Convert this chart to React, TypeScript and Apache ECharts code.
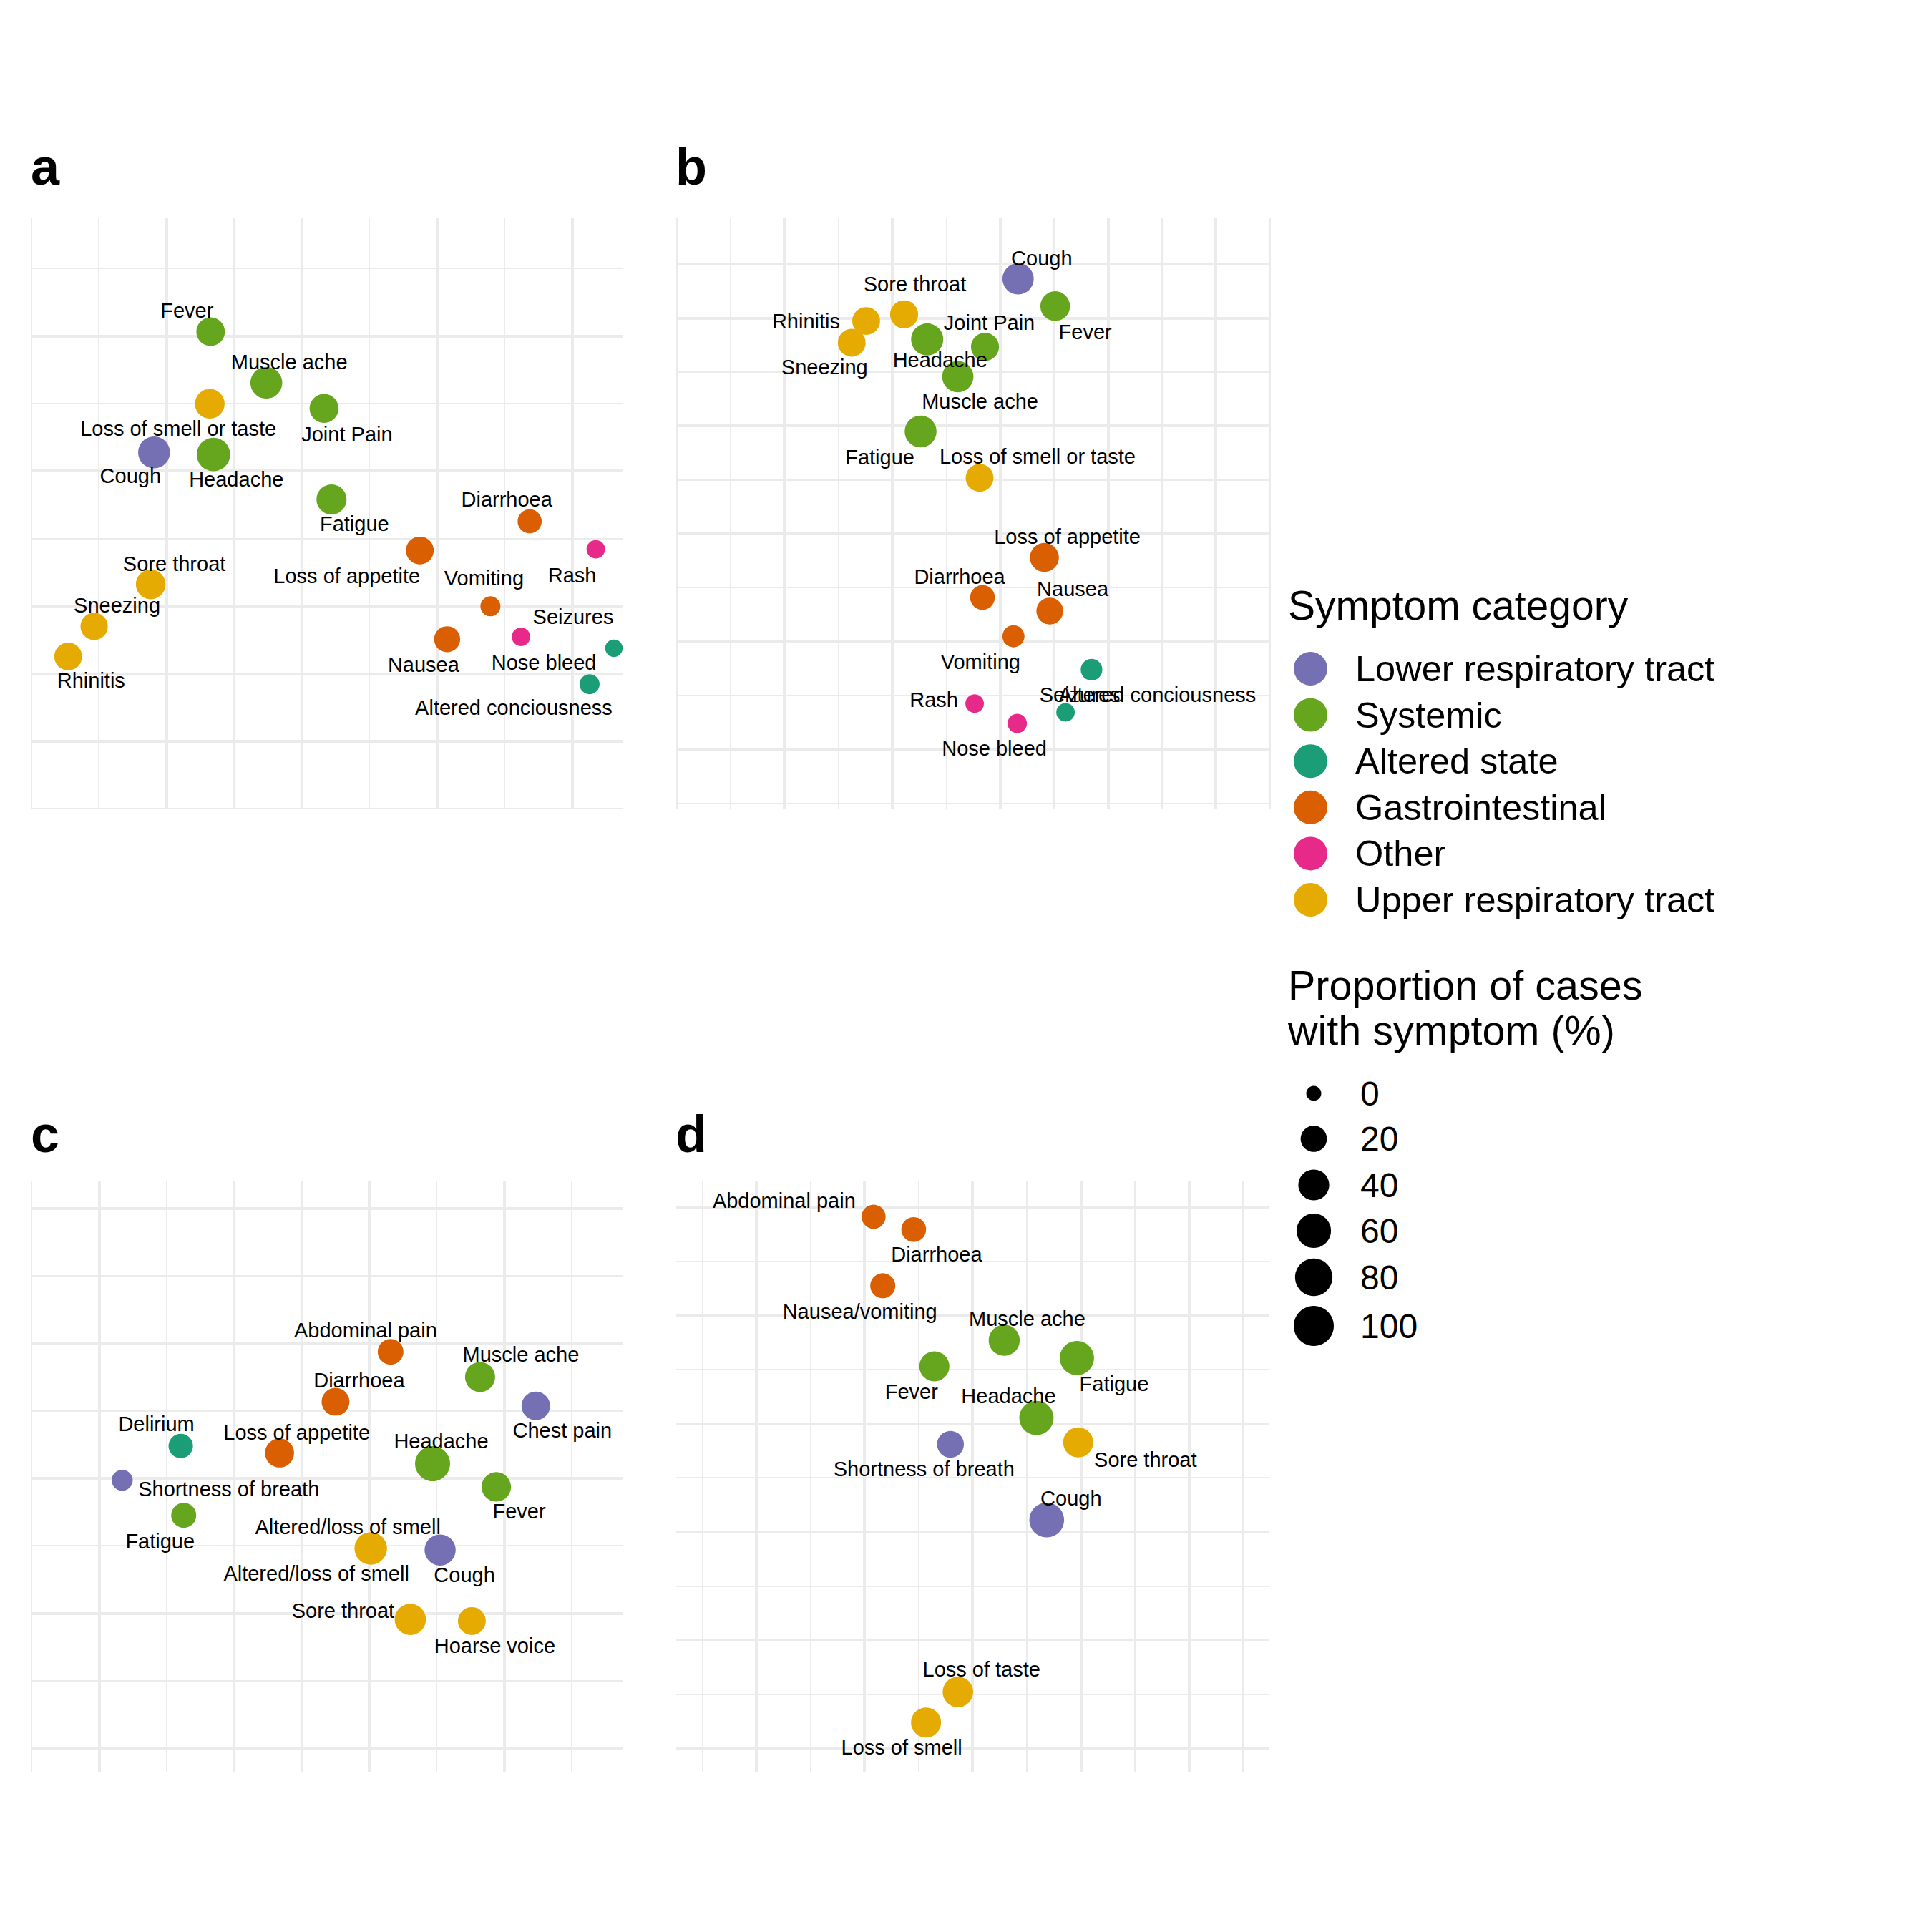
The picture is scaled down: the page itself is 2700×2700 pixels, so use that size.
import React, { useEffect, useRef } from "react";
import * as echarts from "echarts";

// ---------- categories ----------
const CATEGORIES = [
  "Lower respiratory tract",
  "Systemic",
  "Altered state",
  "Gastrointestinal",
  "Other",
  "Upper respiratory tract",
];
const CATEGORY_COLORS = ["#7570B3", "#66A61E", "#1B9E77", "#D95F02", "#E7298A", "#E6AB02"];
const L = 0, S = 1, A = 2, G = 3, O = 4, U = 5;

// ---------- panel a ----------
const aSymptoms = ["Fever", "Muscle ache", "Loss of smell or taste", "Joint Pain", "Cough", "Headache", "Fatigue", "Diarrhoea", "Loss of appetite", "Rash", "Sore throat", "Vomiting", "Sneezing", "Nausea", "Nose bleed", "Seizures", "Rhinitis", "Altered conciousness"];
const aCategory = [S, S, U, S, L, S, S, G, G, O, U, G, U, G, O, A, U, A];
const aX = [0.328, 0.740, 0.322, 1.167, -0.090, 0.349, 1.222, 2.687, 1.875, 3.176, -0.115, 2.397, -0.533, 2.077, 2.623, 3.310, -0.725, 3.130];
const aY = [3.031, 2.653, 2.497, 2.463, 2.137, 2.122, 1.789, 1.627, 1.411, 1.420, 1.160, 0.998, 0.849, 0.754, 0.772, 0.687, 0.626, 0.421];
const aPct = [29, 45, 34, 31, 45, 54, 36, 13, 26, 2, 34, 4, 24, 19, 2, 1, 26, 4];

// ---------- panel b ----------
const bSymptoms = ["Cough", "Fever", "Sore throat", "Rhinitis", "Sneezing", "Headache", "Joint Pain", "Muscle ache", "Fatigue", "Loss of smell or taste", "Loss of appetite", "Diarrhoea", "Nausea", "Vomiting", "Altered conciousness", "Seizures", "Rash", "Nose bleed"];
const bCategory = [L, S, U, U, U, S, S, S, S, U, G, G, G, G, A, A, O, O];
const bX = [3.167, 3.511, 2.110, 1.758, 1.624, 2.324, 2.860, 2.608, 2.263, 2.810, 3.411, 2.837, 3.461, 3.124, 3.848, 3.607, 2.764, 3.159];
const bY = [4.364, 4.111, 4.035, 3.973, 3.771, 3.802, 3.733, 3.457, 2.948, 2.519, 1.780, 1.409, 1.283, 1.049, 0.739, 0.344, 0.425, 0.241];
const bPct = [42, 34, 27, 26, 26, 47, 27, 42, 45, 26, 31, 15, 22, 8, 7, 2, 2, 3];

// ---------- panel c ----------
const cSymptoms = ["Abdominal pain", "Muscle ache", "Diarrhoea", "Chest pain", "Delirium", "Loss of appetite", "Headache", "Shortness of breath", "Fever", "Fatigue", "Altered/loss of smell", "Altered/loss of smell", "Cough", "Sore throat", "Hoarse voice"];
const cCategory = [G, S, G, L, A, G, S, L, S, S, U, U, L, U, U];
const cX = [2.160, 2.823, 1.752, 3.236, 0.605, 1.337, 2.471, 0.171, 2.943, 0.627, 2.013, 2.013, 2.527, 2.306, 2.762];
const cY = [2.937, 2.750, 2.567, 2.536, 2.239, 2.187, 2.108, 1.985, 1.936, 1.725, 1.480, 1.480, 1.468, 0.954, 0.942];
const cPct = [18, 36, 26, 29, 14, 31, 64, 6, 33, 16, 47, 47, 41, 42, 26];

// ---------- panel d ----------
const dSymptoms = ["Abdominal pain", "Diarrhoea", "Nausea/vomiting", "Muscle ache", "Fatigue", "Fever", "Headache", "Shortness of breath", "Sore throat", "Cough", "Loss of taste", "Loss of smell"];
const dCategory = [G, G, G, S, S, S, S, L, U, L, U, U];
const dX = [1.085, 1.456, 1.170, 2.293, 2.965, 1.647, 2.591, 1.796, 2.977, 2.686, 1.865, 1.570];
const dY = [4.913, 4.795, 4.275, 3.771, 3.607, 3.530, 3.053, 2.809, 2.827, 2.109, 0.520, 0.237];
const dPct = [13, 15, 16, 41, 59, 36, 59, 22, 36, 62, 38, 36];

// ---------- size legend ----------
const SIZE_LEGEND_VALUES = [0, 20, 40, 60, 80, 100];

// ---------- layout (label offsets in px, relative to point centre) ----------
const aLabelOffset = [[-33, -30], [32, -29], [-44, 35], [32, 36], [-33, 33], [32, 35], [32, 34], [-32, -31], [-102, 36], [-33, 36], [33, -29], [-9, -39], [32, -29], [-33, 36], [32, 36], [-57, -44], [32, 34], [-106, 33]];
const bLabelOffset = [[33, -29], [42, 36], [15, -42], [-84, 0], [-38, 34], [18, 29], [6, -34], [31, 35], [-57, 36], [81, -30], [32, -29], [-32, -29], [32, -31], [-46, 36], [92, 35], [20, -24], [-57, -5], [-32, 35]];
const cLabelOffset = [[-35, -30], [57, -31], [33, -30], [37, 34], [-34, -31], [24, -29], [12, -31], [149, 12], [32, 34], [-33, 36], [-32, -30], [-76, 35], [34, 35], [-94, -12], [32, 35]];
const dLabelOffset = [[-125, -22], [32, 35], [-32, 36], [32, -30], [52, 36], [-32, 36], [-39, -31], [-37, 35], [94, 24], [34, -30], [33, -31], [-34, 35]];

const FONT = "'Liberation Sans', Arial, Helvetica, sans-serif";
const GRID_COLOR = "#EBEBEB";

const sizeOf = (pct: number) => 21 + 35 * Math.sqrt(pct / 100);

type Panel = {
  tag: string;
  tagX: number;
  tagY: number;
  grid: { left: number; top: number; width: number; height: number };
  xRange: [number, number];
  yRange: [number, number];
  xEdge: { minorMin: boolean; minorMax: boolean };
  yEdge: { minorMin: boolean; minorMax: boolean };
  symptoms: string[];
  category: number[];
  x: number[];
  y: number[];
  pct: number[];
  offsets: number[][];
};

const PANELS: Panel[] = [
  {
    tag: "a", tagX: 43, tagY: 233,
    grid: { left: 43.3, top: 305, width: 827.7, height: 825 },
    xRange: [-1, 3.379], yRange: [-0.5, 3.871],
    xEdge: { minorMin: true, minorMax: false }, yEdge: { minorMin: true, minorMax: false },
    symptoms: aSymptoms, category: aCategory, x: aX, y: aY, pct: aPct, offsets: aLabelOffset,
  },
  {
    tag: "b", tagX: 944, tagY: 233,
    grid: { left: 945.5, top: 305, width: 828.9, height: 825 },
    xRange: [0, 5.5], yRange: [-0.549, 4.926],
    xEdge: { minorMin: true, minorMax: true }, yEdge: { minorMin: false, minorMax: false },
    symptoms: bSymptoms, category: bCategory, x: bX, y: bY, pct: bPct, offsets: bLabelOffset,
  },
  {
    tag: "c", tagX: 43, tagY: 1585,
    grid: { left: 44, top: 1651, width: 827, height: 825 },
    xRange: [-0.501, 3.884], yRange: [-0.175, 4.2],
    xEdge: { minorMin: false, minorMax: false }, yEdge: { minorMin: false, minorMax: false },
    symptoms: cSymptoms, category: cCategory, x: cX, y: cY, pct: cPct, offsets: cLabelOffset,
  },
  {
    tag: "d", tagX: 944, tagY: 1585,
    grid: { left: 945, top: 1651, width: 829, height: 825 },
    xRange: [-0.74, 4.745], yRange: [-0.218, 5.24],
    xEdge: { minorMin: false, minorMax: false }, yEdge: { minorMin: false, minorMax: false },
    symptoms: dSymptoms, category: dCategory, x: dX, y: dY, pct: dPct, offsets: dLabelOffset,
  },
];

function makeAxis(gridIndex: number, range: [number, number], step: number, width: number, showMin: boolean, showMax: boolean) {
  return {
    type: "value",
    gridIndex,
    min: range[0],
    max: range[1],
    minInterval: step,
    maxInterval: step,
    splitNumber: Math.max(1, Math.round((range[1] - range[0]) / step)),
    axisLine: { show: false },
    axisTick: { show: false },
    axisLabel: { show: false },
    splitArea: { show: false },
    splitLine: {
      show: true,
      showMinLine: showMin,
      showMaxLine: showMax,
      lineStyle: { color: GRID_COLOR, width, type: "solid" },
    },
    silent: true,
  };
}

function buildOption() {
  const grids: any[] = [];
  const xAxes: any[] = [];
  const yAxes: any[] = [];
  const series: any[] = [];
  const graphics: any[] = [];

  PANELS.forEach((p, k) => {
    grids.push({ ...p.grid, containLabel: false, outerBoundsMode: "none" });
    // minor grid (every 0.5), then major grid (every 1)
    xAxes.push(makeAxis(k, p.xRange, 0.5, 2, p.xEdge.minorMin, p.xEdge.minorMax));
    xAxes.push(makeAxis(k, p.xRange, 1, 4, false, false));
    yAxes.push(makeAxis(k, p.yRange, 0.5, 2, p.yEdge.minorMin, p.yEdge.minorMax));
    yAxes.push(makeAxis(k, p.yRange, 1, 4, false, false));

    CATEGORIES.forEach((cat, ci) => {
      const data: any[] = [];
      p.symptoms.forEach((name, i) => {
        if (p.category[i] !== ci) return;
        data.push({
          name,
          value: [p.x[i], p.y[i], p.pct[i]],
          label: { offset: p.offsets[i] },
        });
      });
      if (!data.length) return;
      series.push({
        type: "scatter",
        name: cat,
        xAxisIndex: 2 * k + 1,
        yAxisIndex: 2 * k + 1,
        data,
        symbol: "circle",
        symbolSize: (val: number[]) => sizeOf(val[2]),
        itemStyle: { color: CATEGORY_COLORS[ci], opacity: 1 },
        label: {
          show: true,
          position: "inside",
          formatter: "{b}",
          fontSize: 29,
          fontFamily: FONT,
          color: "#000000",
          align: "center",
          verticalAlign: "middle",
          textBorderWidth: 0,
        },
        emphasis: { disabled: true },
        silent: true,
        z: 3,
      });
    });

    graphics.push({
      type: "text",
      x: p.tagX,
      y: p.tagY,
      style: {
        text: p.tag,
        fill: "#000000",
        fontSize: 72,
        fontWeight: "bold",
        fontFamily: FONT,
        align: "left",
        verticalAlign: "middle",
      },
    });
  });

  // legend titles
  graphics.push({
    type: "text", x: 1800, y: 846,
    style: { text: "Symptom category", fill: "#000", fontSize: 57, fontFamily: FONT, align: "left", verticalAlign: "middle" },
  });
  graphics.push({
    type: "text", x: 1800, y: 1376.5,
    style: { text: "Proportion of cases", fill: "#000", fontSize: 57.5, fontFamily: FONT, align: "left", verticalAlign: "middle" },
  });
  graphics.push({
    type: "text", x: 1800, y: 1439.5,
    style: { text: "with symptom (%)", fill: "#000", fontSize: 57.5, fontFamily: FONT, align: "left", verticalAlign: "middle" },
  });

  // size legend
  const sizeLegendY = [1528, 1591.5, 1656, 1720, 1785, 1853];
  SIZE_LEGEND_VALUES.forEach((v, i) => {
    graphics.push({
      type: "circle",
      shape: { cx: 1836, cy: sizeLegendY[i], r: sizeOf(v) / 2 },
      style: { fill: "#000000" },
    });
    graphics.push({
      type: "text", x: 1901, y: sizeLegendY[i],
      style: { text: String(v), fill: "#000", fontSize: 48, fontFamily: FONT, align: "left", verticalAlign: "middle" },
    });
  });

  return {
    animation: false,
    backgroundColor: "#ffffff",
    grid: grids,
    xAxis: xAxes,
    yAxis: yAxes,
    series,
    legend: {
      data: CATEGORIES,
      orient: "vertical",
      left: 1808,
      top: 909,
      itemWidth: 47,
      itemHeight: 47,
      itemGap: 13.6,
      icon: "circle",
      selectedMode: false,
      padding: 0,
      textStyle: {
        fontSize: 50.5,
        fontFamily: FONT,
        color: "#000000",
        lineHeight: 47,
        padding: [0, 0, 0, 34],
      },
    },
    graphic: graphics,
  };
}

export default function App() {
  const ref = useRef<HTMLDivElement>(null);
  useEffect(() => {
    if (!ref.current) return;
    const chart = echarts.init(ref.current, null, { renderer: "svg", width: 2700, height: 2700 });
    chart.setOption(buildOption() as any);
    return () => chart.dispose();
  }, []);
  return (
    <div
      ref={ref}
      style={{ position: "absolute", left: 0, top: 0, width: 2700, height: 2700, background: "#ffffff" }}
    />
  );
}
